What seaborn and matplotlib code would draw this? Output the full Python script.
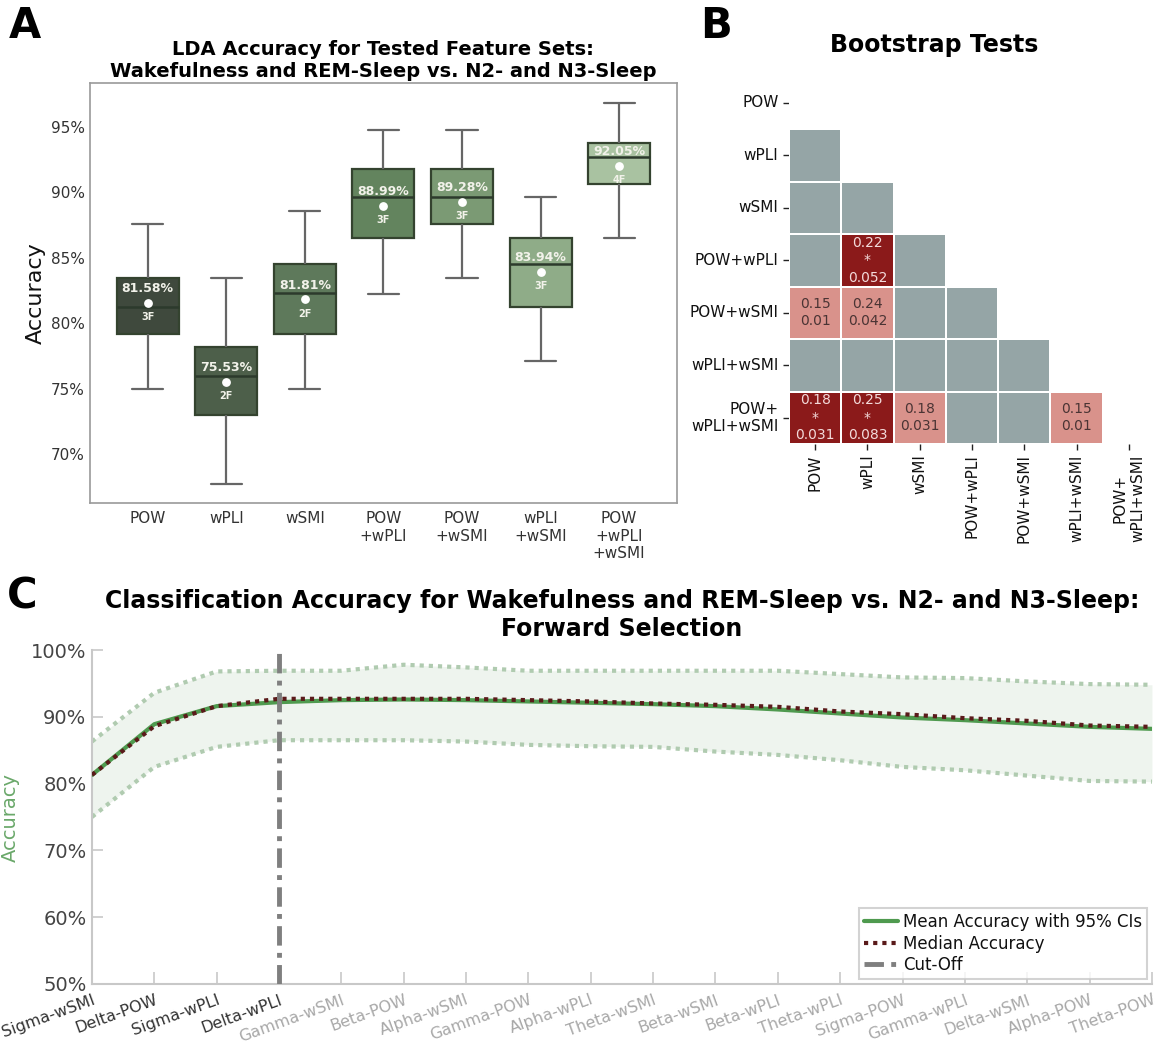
import numpy as np
import pandas as pd
import seaborn as sns
import matplotlib.pyplot as plt
from matplotlib.colors import ListedColormap
from matplotlib.ticker import PercentFormatter

# ---- panel A: five-number summaries of LDA accuracy per feature set ----
feature_sets = ["POW", "wPLI", "wSMI", "POW+wPLI", "POW+wSMI", "wPLI+wSMI", "POW+wPLI+wSMI"]
set_labels = ["POW", "wPLI", "wSMI", "POW\n+wPLI", "POW\n+wSMI", "wPLI\n+wSMI", "POW\n+wPLI\n+wSMI"]
whisker_low = [75.0, 67.7, 75.0, 82.2, 83.45, 77.1, 86.5]
q1 = [79.15, 72.95, 79.15, 86.5, 87.6, 81.2, 90.65]
median = [81.2, 76.0, 82.3, 89.65, 89.65, 84.5, 92.7]
q3 = [83.45, 78.15, 84.5, 91.75, 91.75, 86.5, 93.75]
whisker_high = [87.6, 83.45, 88.6, 94.8, 94.8, 89.65, 96.85]
mean_acc = [81.58, 75.53, 81.81, 88.99, 89.28, 83.94, 92.05]
n_features = ["3F", "2F", "2F", "3F", "3F", "3F", "4F"]
box_colors = ["#3d4b3b", "#4a6247", "#5a7e56", "#5e8a58", "#77a06e", "#8bb282", "#a6c89b"]

# ---- panel B: bootstrap tests (lower triangle) ----
test_labels = ["POW", "wPLI", "wSMI", "POW+wPLI", "POW+wSMI", "wPLI+wSMI", "POW+\nwPLI+wSMI"]
sig_rows = [3, 4, 4, 6, 6, 6, 6]
sig_cols = [1, 0, 1, 0, 1, 2, 5]
effect = ["0.22", "0.15", "0.24", "0.18", "0.25", "0.18", "0.15"]
p_vals = ["0.052", "0.01", "0.042", "0.031", "0.083", "0.031", "0.01"]
starred = [True, False, False, True, True, False, False]
cell_colors = ["#95a5a6", "#d9928b", "#8b1a1a"]

# ---- panel C: forward selection ----
steps = ["Sigma-wSMI", "Delta-POW", "Sigma-wPLI", "Delta-wPLI", "Gamma-wSMI", "Beta-POW",
         "Alpha-wSMI", "Gamma-POW", "Alpha-wPLI", "Theta-wSMI", "Beta-wSMI", "Beta-wPLI",
         "Theta-wPLI", "Sigma-POW", "Gamma-wPLI", "Delta-wSMI", "Alpha-POW", "Theta-POW"]
mean_curve = [81.3, 88.9, 91.6, 92.2, 92.5, 92.6, 92.5, 92.3, 92.1, 91.9, 91.6, 91.1,
              90.5, 89.9, 89.5, 89.0, 88.5, 88.2]
median_curve = [81.3, 88.6, 91.6, 92.7, 92.7, 92.7, 92.7, 92.5, 92.3, 92.0, 91.8, 91.5,
                90.8, 90.4, 89.8, 89.4, 88.7, 88.5]
ci_low = [75.0, 82.5, 85.5, 86.5, 86.5, 86.5, 86.3, 85.8, 85.6, 85.5, 84.8, 84.3,
          83.5, 82.5, 82.0, 81.2, 80.4, 80.3]
ci_high = [86.3, 93.6, 96.8, 96.9, 96.9, 97.8, 97.4, 96.9, 96.9, 96.9, 96.9, 96.9,
           96.4, 95.9, 95.8, 95.3, 94.9, 94.8]
cutoff_step = 3

sns.set_theme(style="white")
plt.rcParams['font.family'] = ['DejaVu Sans']
plt.rcParams['text.color'] = 'black'

fig = plt.figure(figsize=(11.61, 10.5), dpi=100)

# ================= A =================
axA = fig.add_axes([0.0775, 0.521, 0.5055, 0.400])
rows = []
for name, lo, a, m, b, hi in zip(feature_sets, whisker_low, q1, median, q3, whisker_high):
    for v in (lo, a, m, b, hi):
        rows.append({"set": name, "acc": v})
df_box = pd.DataFrame(rows)

sns.boxplot(data=df_box, x="set", y="acc", hue="set", order=feature_sets,
            palette=box_colors, legend=False, whis=np.inf, showfliers=False,
            width=0.79, linewidth=1.6, ax=axA,
            whiskerprops=dict(color="#666666"), capprops=dict(color="#666666"),
            medianprops=dict(color="#2c3a2c", linewidth=1.8))
for patch in axA.patches:
    patch.set_edgecolor("#34432f")

xs_a = np.arange(len(feature_sets))
axA.scatter(xs_a, mean_acc, color="white", s=28, zorder=5)
for x, m, nf in zip(xs_a, mean_acc, n_features):
    axA.text(x, m + 1.1, f"{m:.2f}%", ha="center", va="center", color="#f2f2ea",
             fontsize=9, fontweight="bold", zorder=6)
    axA.text(x, m - 1.1, nf, ha="center", va="center", color="#f2f2ea",
             fontsize=7, fontweight="bold", zorder=6)

axA.set_ylim(66.26, 98.36)
axA.set_yticks([70, 75, 80, 85, 90, 95])
axA.yaxis.set_major_formatter(PercentFormatter(decimals=0))
axA.set_xticks(xs_a)
axA.set_xticklabels(set_labels, fontsize=11, color="#333333", va="top")
axA.tick_params(axis="y", labelsize=11, colors="#333333", length=0)
axA.tick_params(axis="x", length=0, pad=6)
axA.set_xlabel("")
axA.set_ylabel("Accuracy", fontsize=16, color="#111111", labelpad=4)
for sp in axA.spines.values():
    sp.set_color("#9a9a9a")
    sp.set_linewidth(1.2)
axA.set_title("LDA Accuracy for Tested Feature Sets:\nWakefulness and REM-Sleep vs. N2- and N3-Sleep",
              fontsize=14, fontweight="bold", pad=4, color="black")

# ================= B =================
axB = fig.add_axes([0.6796, 0.5771, 0.3152, 0.350])
n = len(test_labels)
level = np.zeros((n, n))
annot = np.full((n, n), "", dtype=object)
for r, c, e, p, s in zip(sig_rows, sig_cols, effect, p_vals, starred):
    level[r, c] = 2 if s else 1
    annot[r, c] = f"{e}\n*\n{p}" if s else f"{e}\n{p}"
mask = np.triu(np.ones((n, n), dtype=bool))
sns.heatmap(level, mask=mask, cmap=ListedColormap(cell_colors), vmin=-0.5, vmax=2.5,
            cbar=False, linewidths=1.2, linecolor="white", annot=annot, fmt="",
            annot_kws={"fontsize": 10, "linespacing": 1.3},
            xticklabels=test_labels, yticklabels=test_labels, ax=axB)
for t in axB.texts:
    t.set_color("#f3dada" if "*" in t.get_text() else "#4a3434")
axB.tick_params(axis="both", bottom=True, left=True, length=4, width=1,
                color="#222222", labelcolor="#111111", labelsize=11)
axB.set_xticklabels(test_labels, rotation=90, fontsize=11)
axB.set_yticklabels(test_labels, rotation=0, fontsize=11)
fig.text(0.805, 0.957, "Bootstrap Tests", ha="center", va="center",
         fontsize=17, fontweight="bold", color="black")

# ================= C =================
axC = fig.add_axes([0.0792, 0.0629, 0.913, 0.318])
xs_c = np.arange(len(steps))
axC.fill_between(xs_c, ci_low, ci_high, color="#eef4ee", linewidth=0, zorder=1)
dot = (0, (1, 1.2))
sns.lineplot(x=xs_c, y=ci_high, ax=axC, color="#b0cbb0", linewidth=3, linestyle=dot, zorder=2)
sns.lineplot(x=xs_c, y=ci_low, ax=axC, color="#b0cbb0", linewidth=3, linestyle=dot, zorder=2)
sns.lineplot(x=xs_c, y=mean_curve, ax=axC, color="#4f9a4f", linewidth=3,
             label="Mean Accuracy with 95% CIs", zorder=3)
sns.lineplot(x=xs_c, y=median_curve, ax=axC, color="#5a1a1a", linewidth=3, linestyle=dot,
             label="Median Accuracy", zorder=4)
axC.axvline(cutoff_step, color="#7f7f7f", linewidth=3.5, linestyle=(0, (4, 1.5, 1, 1.5)),
            label="Cut-Off", zorder=5)

axC.set_xlim(0, len(steps) - 1)
axC.set_ylim(50, 100)
axC.set_yticks([50, 60, 70, 80, 90, 100])
axC.yaxis.set_major_formatter(PercentFormatter(decimals=0))
axC.set_xticks(xs_c)
axC.set_xticklabels(steps, rotation=20, ha="right", rotation_mode="anchor", fontsize=11.5)
for i, lab in enumerate(axC.get_xticklabels()):
    lab.set_color("#333333" if i <= cutoff_step else "#a8a8a8")
axC.tick_params(axis="x", bottom=True, direction="in", length=9, width=1.2,
                color="#c8c8c8", pad=6)
axC.tick_params(axis="y", left=True, direction="in", length=8, width=1.2,
                color="#c8c8c8", labelsize=14, labelcolor="#444444", pad=4)
axC.set_ylabel("Accuracy", fontsize=14, color="#6aa86a", labelpad=8)
for side in ("top", "right"):
    axC.spines[side].set_visible(False)
for side in ("left", "bottom"):
    axC.spines[side].set_color("#c8c8c8")
    axC.spines[side].set_linewidth(1.5)
leg = axC.legend(loc="lower right", fontsize=12, frameon=True, fancybox=False,
                 handlelength=2.0, handletextpad=0.3, borderpad=0.3, labelspacing=0.2,
                 borderaxespad=0.3)
leg.get_frame().set_edgecolor("#c8c8c8")
leg.get_frame().set_linewidth(1.5)
for t in leg.get_texts():
    t.set_color("#111111")
axC.set_title("Classification Accuracy for Wakefulness and REM-Sleep vs. N2- and N3-Sleep:\nForward Selection",
              fontsize=17, fontweight="bold", pad=10, color="black")

# panel letters
fig.text(0.008, 0.995, "A", fontsize=30, fontweight="bold", va="top", color="black")
fig.text(0.603, 0.995, "B", fontsize=30, fontweight="bold", va="top", color="black")
fig.text(0.006, 0.452, "C", fontsize=30, fontweight="bold", va="top", color="black")

fig.savefig("out.png", dpi=100)
